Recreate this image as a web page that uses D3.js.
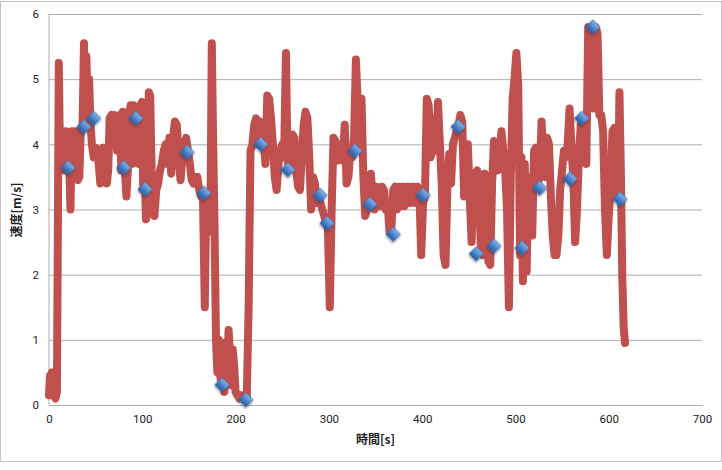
<!DOCTYPE html>
<html>
<head>
<meta charset="utf-8">
<script src="https://cdn.jsdelivr.net/npm/d3@7"></script>
<style>
  body { margin: 0; background: #fff; }
  svg { display: block; }
</style>
</head>
<body>
<svg width="722" height="470"></svg>
<script>
// speed trace (time in s, speed in m/s)
const timeSec = [
  0, 1, 2, 3, 4, 5, 6, 7, 8.5, 10.5, 12, 13.5, 15, 16.5, 18, 19.5, 21, 23, 24.5, 26,
  27.5, 29, 31, 32.5, 34, 36, 37.5, 38.5, 40, 41.5, 43, 44.5, 46, 48, 50, 51.5, 53, 55, 56.5, 58,
  60, 62, 63.5, 65, 67, 68.5, 70, 71.5, 73, 74.5, 76, 77.5, 79, 81, 83, 84.5, 86, 87.5, 89, 90.5,
  92, 93.5, 95, 96.5, 98, 99.5, 101, 102.5, 104, 105.5, 107, 108.5, 110, 111.5, 113, 115, 117, 119, 121, 123,
  125, 127, 129, 131, 133, 135, 137, 139, 141, 143, 145, 147, 149, 151, 153, 155, 157, 159, 161, 163,
  165, 167, 168.5, 170, 171.5, 173, 174.5, 176, 177.5, 179, 180.5, 182, 183.5, 185, 186.5, 188, 189.5, 191, 192.5, 194,
  195.5, 197, 198.5, 200, 202, 204, 206, 208, 210, 212, 214, 216, 218, 220, 222, 224, 226, 228, 230, 232,
  234, 236, 238, 240, 242, 244, 246, 248, 250, 252, 254, 255.5, 257, 259, 261, 263, 265, 267, 269, 271,
  273, 275, 277, 279, 281, 283, 285, 287, 289, 291, 293, 295, 297, 299, 301, 303, 305, 307, 309, 311,
  313, 315, 317, 319, 321, 323, 325, 327, 329, 331, 333, 335, 337, 339, 341, 343, 345, 347, 349, 351,
  353, 355, 357, 359, 361, 363, 365, 367, 369, 371, 373, 375, 377, 379, 381, 383, 385, 387, 389, 391,
  393, 395, 397, 399, 401, 403, 405, 407, 409, 411, 413, 415, 417, 419, 421, 423, 425, 427, 429, 431,
  433, 435, 437, 439, 441, 443, 445, 447, 449, 451, 453, 455, 457, 459, 461, 463, 465, 467, 469, 471,
  473, 475, 477, 479, 481, 483, 485, 487, 489, 491, 493, 495, 497, 499, 501, 503, 505, 506.5, 508, 510,
  512, 514, 516, 518, 520, 522, 524, 526, 528, 530, 532, 534, 536, 538, 540, 542, 544, 546, 548, 550,
  552, 554, 556, 558, 560, 562, 564, 566, 568, 570, 572, 574, 576, 578, 580, 582, 584, 586, 588, 590,
  592, 594, 596, 598, 600, 602, 604, 606, 608, 610, 611.5, 613, 614.5, 616, 617.5
]
const speed = [
  0.15, 0.45, 0.15, 0.5, 0.45, 0.5, 0.12, 0.1, 0.2, 5.25, 3.6, 3.7, 4.2, 3.6, 4.2, 3.6, 4.1, 3.0, 4.2, 4.2,
  3.9, 4.2, 3.45, 3.5, 4.2, 4.3, 5.55, 4.4, 5.35, 4.6, 5.0, 4.3, 4.0, 3.8, 3.95, 3.9, 3.75, 3.4, 3.9, 3.95,
  3.8, 3.4, 3.6, 4.4, 4.45, 4.1, 4.45, 4.3, 3.9, 4.4, 4.45, 3.6, 4.5, 3.7, 3.2, 3.6, 4.45, 4.6, 3.7, 4.6,
  4.4, 3.8, 4.4, 3.7, 4.6, 4.65, 3.3, 3.6, 2.85, 3.0, 4.8, 4.75, 3.6, 3.2, 2.9, 3.3, 3.4, 3.6, 3.7, 3.9,
  4.0, 3.7, 4.1, 3.55, 4.1, 4.35, 4.3, 3.8, 3.45, 3.8, 4.0, 4.1, 3.9, 3.7, 3.45, 3.4, 3.5, 3.5, 3.3, 3.2,
  3.25, 1.5, 3.0, 2.65, 3.2, 2.7, 5.55, 4.0, 2.7, 1.0, 0.5, 1.0, 0.45, 0.3, 0.95, 0.2, 0.9, 0.5, 1.15, 0.8,
  0.3, 0.85, 0.6, 0.2, 0.15, 0.1, 0.15, 0.1, 0.12, 0.1, 1.5, 3.9, 4.0, 4.3, 4.4, 4.0, 4.35, 4.0, 4.1, 3.7,
  4.75, 4.7, 4.4, 4.0, 3.5, 3.3, 3.7, 3.9, 4.0, 3.8, 5.4, 3.9, 3.6, 3.8, 4.15, 4.1, 3.6, 3.35, 3.3, 3.8,
  4.3, 4.5, 4.4, 3.8, 3.0, 3.5, 3.4, 3.1, 3.2, 3.1, 3.0, 2.9, 2.8, 2.7, 1.5, 3.0, 4.1, 4.05, 3.75, 3.9,
  4.0, 3.75, 4.3, 3.4, 3.5, 3.9, 3.8, 4.1, 5.3, 4.6, 4.0, 4.7, 3.5, 2.9, 3.0, 3.3, 3.55, 3.2, 3.0, 3.35,
  3.3, 3.05, 3.35, 3.3, 3.0, 3.1, 2.65, 2.7, 3.3, 3.35, 3.0, 3.35, 3.05, 3.35, 3.05, 3.35, 3.35, 3.1, 3.35, 3.35,
  3.1, 3.35, 3.3, 2.3, 3.1, 3.2, 4.7, 4.6, 3.8, 3.9, 4.4, 3.9, 4.65, 4.0, 3.4, 2.3, 2.15, 3.3, 3.85, 3.4,
  4.0, 4.1, 4.2, 4.3, 4.45, 4.35, 3.2, 3.8, 4.0, 3.2, 2.5, 3.5, 3.55, 3.6, 3.2, 2.4, 2.3, 3.55, 2.8, 2.2,
  2.15, 3.4, 4.05, 4.0, 3.6, 3.8, 4.2, 3.9, 3.6, 3.0, 1.5, 3.5, 4.7, 5.0, 5.4, 4.9, 2.3, 3.8, 1.9, 3.7,
  2.05, 3.5, 3.1, 2.6, 3.9, 3.95, 3.4, 3.5, 4.35, 3.8, 3.5, 4.1, 4.0, 3.2, 2.6, 2.3, 2.3, 2.6, 3.3, 3.6,
  3.9, 3.8, 4.0, 4.55, 4.0, 3.5, 2.5, 3.0, 3.8, 4.3, 4.4, 4.1, 3.7, 5.8, 5.7, 5.8, 4.55, 5.8, 5.7, 4.45,
  4.45, 4.2, 3.0, 2.3, 2.9, 3.3, 4.2, 4.25, 4.2, 3.2, 4.8, 3.6, 2.0, 1.2, 0.95
]

// diamond markers
const markerTime = [20.4, 37.5, 48, 80, 93, 103, 148, 166, 185.5, 211, 227, 256, 290.5, 298,
  328, 344, 369, 401, 438.5, 458, 477, 507, 526, 558.5, 571, 583, 612]
const markerSpeed = [3.64, 4.27, 4.40, 3.64, 4.40, 3.31, 3.88, 3.25, 0.31, 0.08, 4.0, 3.61, 3.22, 2.79,
  3.90, 3.08, 2.62, 3.22, 4.27, 2.32, 2.44, 2.41, 3.33, 3.47, 4.40, 5.80, 3.16]

const xTicks = [0, 100, 200, 300, 400, 500, 600, 700]
const yTicks = [0, 1, 2, 3, 4, 5, 6]
const xAxisLabel = '時間[s]'
const yAxisLabel = '速度[m/s]'

const svg = d3.select('svg')
const width = +svg.attr('width')
const margin = { top: 14, left: 49 }
const innerWidth = 653
const innerHeight = 391

// outer chart frame
svg.append('rect')
  .attr('x', 0.5).attr('y', 1.5)
  .attr('width', width - 1).attr('height', 460)
  .attr('fill', '#fff')
  .attr('stroke', '#c4c4c4')

const defs = svg.append('defs')
const grad = defs.append('linearGradient')
  .attr('id', 'dia').attr('x1', 0).attr('y1', 0).attr('x2', 0).attr('y2', 1)
grad.append('stop').attr('offset', '0%').attr('stop-color', '#86b4ea')
grad.append('stop').attr('offset', '50%').attr('stop-color', '#4f86cc')
grad.append('stop').attr('offset', '100%').attr('stop-color', '#2b5c9f')
const shadow = defs.append('filter').attr('id', 'shadow')
  .attr('x', '-50%').attr('y', '-50%').attr('width', '200%').attr('height', '200%')
shadow.append('feDropShadow')
  .attr('dx', 1).attr('dy', 1.5).attr('stdDeviation', 1.2)
  .attr('flood-color', '#000').attr('flood-opacity', 0.35)

const xScale = d3.scaleLinear().domain([0, 700]).range([0, innerWidth])
const yScale = d3.scaleLinear().domain([0, 6]).range([innerHeight, 0])

const g = svg.append('g')
  .attr('transform', `translate(${margin.left}, ${margin.top})`)

const fontFamily = 'Roboto, "Noto Sans", sans-serif'

// y gridlines + labels
const yAxis = d3.axisLeft(yScale)
  .tickValues(yTicks)
  .tickFormat(d3.format('d'))
  .tickSize(-innerWidth)
  .tickPadding(10)
const yAxisG = g.append('g').call(yAxis)
yAxisG.select('.domain').remove()
yAxisG.selectAll('.tick line').attr('stroke', '#adadad')
yAxisG.selectAll('.tick text')
  .attr('font-family', fontFamily).attr('font-size', 11.5).attr('fill', '#222')

// left axis line
g.append('line')
  .attr('x1', 0).attr('x2', 0).attr('y1', 0).attr('y2', innerHeight)
  .attr('stroke', '#adadad')

const xAxis = d3.axisBottom(xScale)
  .tickValues(xTicks)
  .tickFormat(d3.format('d'))
  .tickSize(0)
  .tickPadding(10)
const xAxisG = g.append('g').call(xAxis)
  .attr('transform', `translate(0, ${innerHeight})`)
xAxisG.select('.domain').attr('stroke', '#adadad')
xAxisG.selectAll('.tick text')
  .attr('font-family', fontFamily).attr('font-size', 11.5).attr('fill', '#222')

xAxisG.append('text')
  .attr('x', xScale(350))
  .attr('y', 39)
  .attr('text-anchor', 'middle')
  .attr('font-family', '"Noto Sans CJK JP", sans-serif')
  .attr('font-weight', 'bold')
  .attr('font-size', 12)
  .attr('fill', '#222')
  .text(xAxisLabel)

g.append('text')
  .attr('transform', `translate(-28, 196) rotate(-90)`)
  .attr('text-anchor', 'middle')
  .attr('font-family', '"Noto Sans CJK JP", sans-serif')
  .attr('font-weight', 'bold')
  .attr('font-size', 12)
  .attr('fill', '#222')
  .text(yAxisLabel)

// speed line
const pts = timeSec.map((t, i) => [t, speed[i]])
const line = d3.line()
  .x(d => xScale(d[0]))
  .y(d => yScale(d[1]))

g.append('path')
  .datum(pts)
  .attr('d', line)
  .attr('fill', 'none')
  .attr('stroke', '#c0504d')
  .attr('stroke-width', 8)
  .attr('stroke-linejoin', 'round')
  .attr('stroke-linecap', 'round')

// diamond markers
const diamond = d3.symbol().type(d3.symbolSquare).size(105)
const marks = markerTime.map((t, i) => [t, markerSpeed[i]])
g.selectAll('path.mark').data(marks)
  .enter().append('path')
  .attr('class', 'mark')
  .attr('d', diamond)
  .attr('transform', d => `translate(${xScale(d[0])}, ${yScale(d[1])}) rotate(45)`)
  .attr('fill', 'url(#dia)')
  .attr('stroke', '#3a6cab')
  .attr('stroke-width', 0.6)
  .attr('filter', 'url(#shadow)')
</script>
</body>
</html>
